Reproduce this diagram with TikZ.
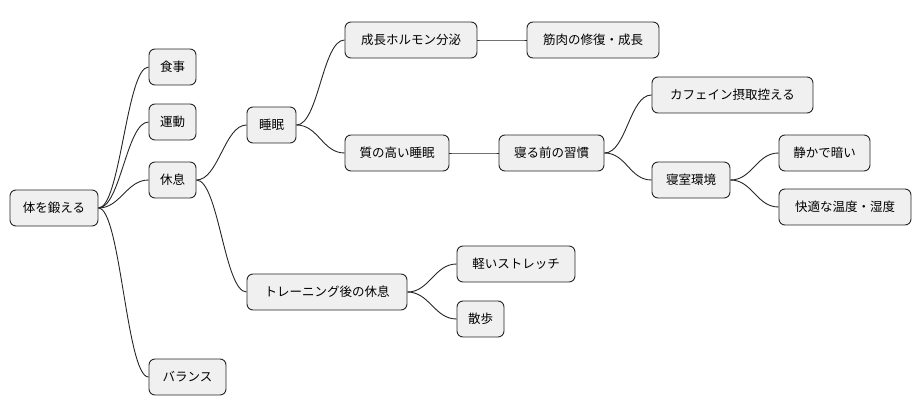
\documentclass[tikz,border=0pt]{standalone}
\usepackage{fontspec}
\setmainfont{Noto Sans CJK JP}
\begin{document}
\begin{tikzpicture}[x=1pt,y=-1pt,
  box/.style={draw=black!85,fill=black!6,rounded corners=6pt,line width=0.9pt,minimum height=36pt,inner sep=0pt,font=\fontsize{12.5}{14}\selectfont},
  ln/.style={draw=black!85,line width=0.9pt}]
\useasboundingbox (0,0) rectangle (922,415);
\node[box,minimum width=88] (root) at (54,208) {体を鍛える};
\node[box,minimum width=47] (a) at (172.5,67) {食事};
\node[box,minimum width=47] (b) at (172.5,122) {運動};
\node[box,minimum width=47] (c) at (172.5,180) {休息};
\node[box,minimum width=77] (d) at (187.5,377) {バランス};
\node[box,minimum width=49] (s) at (271.5,125) {睡眠};
\node[box,minimum width=160] (t) at (327,292) {トレーニング後の休息};
\node[box,minimum width=132] (g) at (411,40) {成長ホルモン分泌};
\node[box,minimum width=104] (q) at (397,153) {質の高い睡眠};
\node[box,minimum width=132] (m) at (593,40) {筋肉の修復・成長};
\node[box,minimum width=105] (h) at (551.5,153) {寝る前の習慣};
\node[box,minimum width=161] (k) at (732.5,95) {カフェイン摂取控える};
\node[box,minimum width=78] (r) at (691,180) {寝室環境};
\node[box,minimum width=91] (sd) at (824.5,153) {静かで暗い};
\node[box,minimum width=132] (ct) at (845,207) {快適な温度・湿度};
\node[box,minimum width=118] (st) at (516,264) {軽いストレッチ};
\node[box,minimum width=47] (w) at (480.5,319) {散歩};
\foreach \p/\c in {root/a,root/b,root/c,root/d,c/s,c/t,s/g,s/q,g/m,q/h,h/k,h/r,r/sd,r/ct,t/st,t/w}{
  \path[ln] (\p.east) .. controls ([xshift=22pt]\p.east) and ([xshift=-22pt]\c.west) .. (\c.west);
}
\end{tikzpicture}
\end{document}
